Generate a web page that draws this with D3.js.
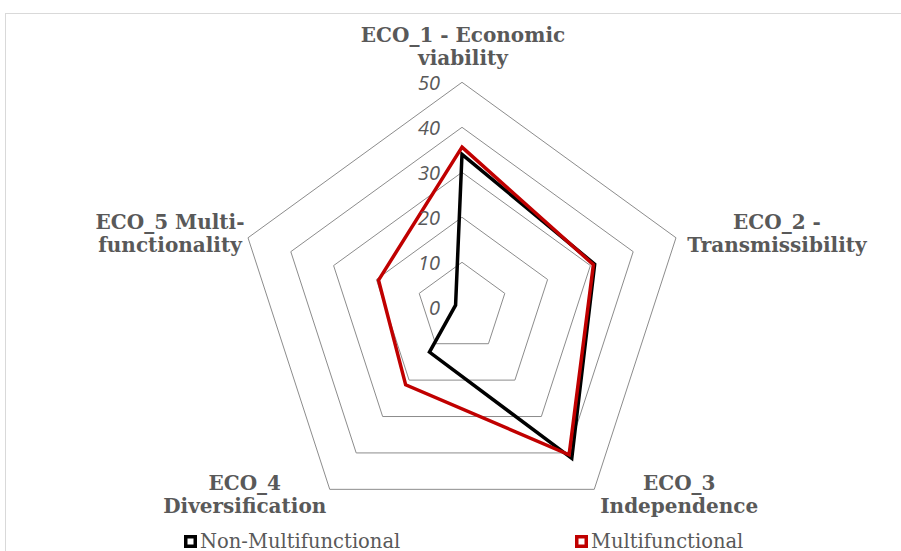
<!DOCTYPE html>
<html>
<head>
<meta charset="utf-8">
<script src="https://cdn.jsdelivr.net/npm/d3@7/dist/d3.min.js"></script>
<style>
  html, body { margin: 0; padding: 0; background: #fff; }
  svg { display: block; }
</style>
</head>
<body>
<svg id="chart" width="901" height="551"></svg>
<script>
// Radar chart: economic sustainability indicators, two farm groups
const axesLabels = [
  ["ECO_1 - Economic", "viability"],
  ["ECO_2 -", "Transmissibility"],
  ["ECO_3", "Independence"],
  ["ECO_4", "Diversification"],
  ["ECO_5 Multi-", "functionality"]
];
const seriesNames = ["Non-Multifunctional", "Multifunctional"];
const nonMultifunctional = [34, 31, 41.5, 12.3, 1.5];
const multifunctional = [35.6, 30.7, 40.5, 21.3, 19.5];
const ringTicks = [0, 10, 20, 30, 40, 50];
const seriesColors = ["#000000", "#C00000"];

const svg = d3.select("#chart");
const W = 901, H = 551;
const cx = 462, cy = 307.3, R = 225;

// outer frame of the chart area
svg.append("rect")
  .attr("x", 5.5).attr("y", 13.5)
  .attr("width", W + 20).attr("height", H + 20)
  .attr("fill", "none").attr("stroke", "#d9d9d9").attr("stroke-width", 1);

const r = d3.scaleLinear().domain([0, 50]).range([0, R]);
const n = axesLabels.length;
const angle = d3.scaleLinear().domain([0, n]).range([-Math.PI / 2, 3 * Math.PI / 2]);
const pt = (i, v) => [cx + r(v) * Math.cos(angle(i)), cy + r(v) * Math.sin(angle(i))];

// concentric pentagon gridlines
const gridG = svg.append("g");
ringTicks.filter(t => t > 0).forEach(t => {
  const pts = d3.range(n).map(i => pt(i, t));
  gridG.append("path")
    .attr("d", d3.line()(pts) + "Z")
    .attr("fill", "none")
    .attr("stroke", "#8c8c8c")
    .attr("stroke-width", 1);
});

// series lines (drawn in order, later series on top)
const line = d3.line().curve(d3.curveLinearClosed);
[nonMultifunctional, multifunctional].forEach((vals, s) => {
  svg.append("path")
    .attr("d", line(vals.map((v, i) => pt(i, v))))
    .attr("fill", "none")
    .attr("stroke", seriesColors[s])
    .attr("stroke-width", 3.5)
    .attr("stroke-linejoin", "miter");
});

// value labels along the top axis
svg.append("g").selectAll("text")
  .data(ringTicks)
  .join("text")
  .attr("x", cx - 22)
  .attr("y", d => cy - r(d))
  .attr("dy", "0.36em")
  .attr("text-anchor", "end")
  .attr("font-family", "'Open Sans', sans-serif")
  .attr("font-style", "italic")
  .attr("font-size", 20)
  .attr("fill", "#595959")
  .text(d => d);

// category labels, offset from each outer vertex
const labelOffsets = [[1, -40], [101, -8.5], [85, 1], [-85, 1], [-78, -8.5]];
const labG = svg.append("g")
  .attr("font-family", "'DejaVu Serif', serif")
  .attr("font-weight", "bold")
  .attr("font-size", 20)
  .attr("fill", "#595959")
  .attr("text-anchor", "middle");
axesLabels.forEach((lines, i) => {
  const [vx, vy] = pt(i, 50);
  const t = labG.append("text")
    .attr("x", vx + labelOffsets[i][0])
    .attr("y", vy + labelOffsets[i][1]);
  lines.forEach((s, k) => {
    t.append("tspan")
      .attr("x", vx + labelOffsets[i][0])
      .attr("dy", k === 0 ? 0 : 23)
      .text(s);
  });
});

// legend
const legendX = [184, 575];
const lg = svg.append("g");
seriesNames.forEach((name, s) => {
  const g = lg.append("g").attr("transform", `translate(${legendX[s]},535)`);
  g.append("rect")
    .attr("x", 1.75).attr("y", 1.75)
    .attr("width", 9.5).attr("height", 9.5)
    .attr("fill", "#fff")
    .attr("stroke", seriesColors[s])
    .attr("stroke-width", 3.5);
  g.append("text")
    .attr("x", 16).attr("y", 12.5)
    .attr("font-family", "'DejaVu Serif', serif")
    .attr("font-size", 19.5)
    .attr("fill", "#595959")
    .text(name);
});
</script>
</body>
</html>
